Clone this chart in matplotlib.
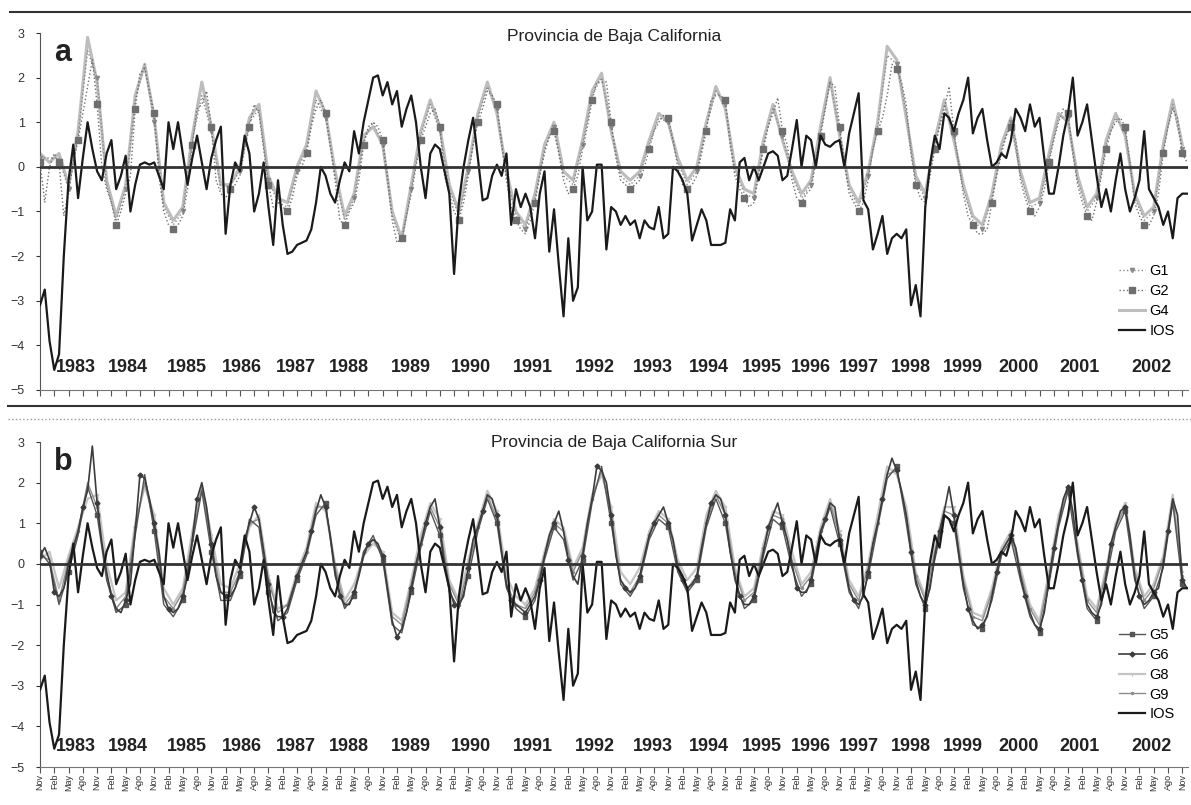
import numpy as np
import matplotlib
matplotlib.use("Agg")
import matplotlib.pyplot as plt
from matplotlib.lines import Line2D

# monthly series, Nov 1982 .. Dec 2002 (one row = Nov..Oct)
ios = [
    -3.1, -2.75, -3.9, -4.55, -4.2, -2.0, -0.3, 0.5, -0.7, 0.2, 1.0, 0.4,
    -0.1, -0.3, 0.3, 0.6, -0.5, -0.2, 0.25, -1.0, -0.4, 0.05, 0.1, 0.05,
    0.1, -0.2, -0.5, 1.0, 0.4, 1.0, 0.3, -0.4, 0.2, 0.7, 0.1, -0.5,
    0.2, 0.6, 0.9, -1.5, -0.4, 0.1, -0.1, 0.7, 0.3, -1.0, -0.6, 0.1,
    -0.9, -1.75, -0.3, -1.3, -1.95, -1.9, -1.75, -1.7, -1.65, -1.4, -0.8, 0.0,
    -0.2, -0.6, -0.8, -0.3, 0.1, -0.1, 0.8, 0.3, 1.0, 1.5, 2.0, 2.05,
    1.6, 1.9, 1.4, 1.7, 0.9, 1.3, 1.6, 1.0, 0.0, -0.7, 0.3, 0.5,
    0.4, -0.1, -0.6, -2.4, -0.8, 0.0, 0.6, 1.1, 0.2, -0.75, -0.7, -0.2,
    0.05, -0.2, 0.3, -1.3, -0.5, -0.9, -0.6, -0.9, -1.6, -0.6, -0.1, -1.9,
    -0.95, -2.2, -3.35, -1.6, -3.0, -2.7, 0.0, -1.2, -1.0, 0.05, 0.05, -1.85,
    -0.9, -1.0, -1.3, -1.1, -1.3, -1.2, -1.6, -1.2, -1.35, -1.4, -0.9, -1.6,
    -1.5, 0.0, -0.1, -0.3, -0.6, -1.65, -1.3, -0.95, -1.2, -1.75, -1.75, -1.75,
    -1.7, -0.95, -1.2, 0.1, 0.2, -0.3, 0.0, -0.3, 0.0, 0.3, 0.35, 0.25,
    -0.3, -0.2, 0.4, 1.05, 0.0, 0.7, 0.6, 0.0, 0.7, 0.5, 0.45, 0.55,
    0.6, 0.0, 0.75, 1.2, 1.65, -0.75, -0.95, -1.85, -1.5, -1.1, -1.95, -1.6,
    -1.5, -1.6, -1.4, -3.1, -2.65, -3.35, -0.9, 0.05, 0.7, 0.4, 1.2, 1.1,
    0.8, 1.2, 1.5, 2.0, 0.75, 1.1, 1.3, 0.6, 0.0, 0.1, 0.3, 0.2,
    0.6, 1.3, 1.1, 0.8, 1.4, 0.9, 1.1, 0.2, -0.6, -0.6, 0.0, 0.7,
    1.2, 2.0, 0.7, 1.0, 1.4, 0.6, -0.2, -0.9, -0.5, -1.0, -0.3, 0.3,
    -0.5, -1.0, -0.7, -0.3, 0.8, -0.5, -0.7, -0.9, -1.3, -1.0, -1.6, -0.7,
    -0.6, -0.6,
]

g2 = [
    0.1, -0.8, 0.0, 0.3, 0.1, -1.1, -0.6, 0.1, 0.6, 1.2, 1.8, 2.4,
    1.4, 0.0, -0.5, -0.8, -1.3, -1.0, -0.6, -0.2, 1.3, 2.1, 2.2, 1.7,
    1.2, -0.2, -1.0, -1.3, -1.4, -1.3, -1.1, -0.5, 0.5, 1.3, 1.4, 1.7,
    0.9, -0.3, -0.6, -0.7, -0.5, -0.4, -0.2, 0.4, 0.9, 1.4, 1.2, 0.4,
    -0.4, -0.9, -0.8, -0.9, -1.0, -0.7, -0.2, 0.0, 0.3, 0.9, 1.3, 1.5,
    1.2, 0.5, -0.3, -1.2, -1.3, -1.0, -0.8, -0.3, 0.5, 0.9, 1.0, 0.9,
    0.6, -0.2, -1.2, -1.7, -1.6, -1.1, -0.6, 0.0, 0.6, 0.9, 1.2, 1.3,
    0.9, -0.2, -0.6, -1.0, -1.2, -0.8, -0.2, 0.5, 1.0, 1.3, 1.7, 1.6,
    1.4, 0.5, -0.3, -0.9, -1.2, -1.4, -1.5, -1.2, -0.8, -0.2, 0.3, 0.7,
    0.8, 0.3, -0.3, -0.6, -0.5, -0.2, 0.4, 0.9, 1.5, 1.9, 1.9, 1.9,
    1.0, 0.2, -0.3, -0.4, -0.5, -0.4, -0.3, 0.0, 0.4, 0.8, 1.0, 1.15,
    1.1, 0.6, 0.0, -0.4, -0.5, -0.4, -0.2, 0.3, 0.8, 1.5, 1.6, 1.6,
    1.5, 0.5, -0.2, -0.5, -0.7, -0.9, -0.8, -0.2, 0.4, 0.9, 1.2, 1.55,
    0.8, 0.5, -0.3, -0.7, -0.8, -0.6, -0.5, 0.1, 0.7, 1.3, 1.9, 1.8,
    0.9, 0.1, -0.6, -0.8, -1.0, -0.8, -0.3, 0.4, 0.8, 1.1, 1.6, 2.3,
    2.2, 1.9, 1.4, 0.3, -0.4, -0.7, -0.8, -0.2, 0.4, 0.9, 1.3, 1.8,
    0.8, 0.1, -0.6, -1.1, -1.3, -1.5, -1.5, -1.4, -0.8, -0.2, 0.3, 0.7,
    0.9, 0.6, -0.3, -0.7, -1.0, -1.1, -0.9, -0.5, 0.1, 0.6, 1.0, 1.3,
    1.2, 0.3, -0.4, -0.8, -1.1, -1.2, -0.8, -0.2, 0.4, 0.8, 1.0, 1.1,
    0.9, 0.1, -0.8, -1.1, -1.3, -1.3, -1.1, -0.6, 0.3, 0.9, 1.3, 1.1,
    0.3, 0.1,
]

g6 = [
    0.2, 0.4, 0.1, -0.7, -0.8, -0.6, 0.0, 0.4, 0.8, 1.4, 1.8, 2.9,
    1.5, 0.5, -0.2, -0.8, -1.1, -1.2, -0.9, -0.5, 0.8, 2.2, 2.1, 1.6,
    1.0, 0.3, -0.8, -1.1, -1.2, -1.1, -0.8, -0.3, 0.6, 1.6, 2.0, 1.4,
    0.5, -0.3, -0.7, -0.8, -0.8, -0.6, -0.2, 0.6, 1.0, 1.4, 1.1, 0.3,
    -0.5, -1.2, -1.3, -1.3, -1.1, -0.7, -0.3, 0.0, 0.3, 0.8, 1.3, 1.7,
    1.4, 0.7, -0.2, -0.8, -1.0, -1.0, -0.7, -0.3, 0.2, 0.5, 0.6, 0.5,
    0.2, -0.6, -1.4, -1.8, -1.6, -1.2, -0.6, 0.0, 0.5, 1.0, 1.4, 1.6,
    0.9, 0.0, -0.6, -1.0, -1.0, -0.8, -0.1, 0.6, 0.9, 1.3, 1.7, 1.6,
    1.2, 0.3, -0.5, -0.9, -1.0, -1.1, -1.2, -1.0, -0.8, -0.4, 0.2, 0.7,
    1.0, 1.3, 0.8, 0.1, -0.3, -0.5, 0.2, 1.0, 1.6, 2.4, 2.3, 2.0,
    1.2, 0.2, -0.4, -0.6, -0.7, -0.6, -0.3, 0.2, 0.7, 1.0, 1.2, 1.4,
    1.0, 0.6, -0.1, -0.4, -0.6, -0.5, -0.3, 0.4, 1.0, 1.5, 1.7, 1.6,
    1.2, 0.3, -0.3, -0.8, -1.0, -1.0, -0.8, -0.3, 0.3, 0.9, 1.2, 1.5,
    1.0, 0.6, 0.0, -0.6, -0.7, -0.7, -0.4, 0.2, 0.8, 1.1, 1.5, 1.4,
    0.6, 0.0, -0.6, -0.9, -1.0, -0.8, -0.2, 0.5, 1.0, 1.6, 2.2, 2.6,
    2.3, 1.8, 1.2, 0.3, -0.4, -0.8, -1.0, -0.6, 0.2, 0.8, 1.3, 1.9,
    1.2, 0.3, -0.5, -1.1, -1.4, -1.6, -1.5, -1.3, -0.8, -0.2, 0.3, 0.5,
    0.7, 0.4, -0.3, -0.8, -1.2, -1.5, -1.6, -1.2, -0.4, 0.4, 1.0, 1.6,
    1.9, 1.3, 0.3, -0.4, -1.0, -1.2, -1.3, -1.0, -0.3, 0.5, 0.9, 1.3,
    1.4, 0.7, -0.3, -0.8, -1.0, -0.9, -0.7, -0.6, 0.0, 0.8, 1.6, 1.2,
    -0.4, -0.6,
]

# bimonthly series (every second month from Nov 1982)
g1 = [
    0.2, 0.2, 0.2, -0.5, 0.7, 2.6, 2.0, -0.4, -1.2, -0.5,
    1.5, 2.3, 1.0, -0.9, -1.3, -1.0, 0.6, 1.6, 0.8, -0.5,
    -0.4, -0.1, 1.0, 1.3, -0.3, -0.8, -0.9, -0.1, 0.4, 1.5,
    1.1, -0.2, -1.2, -0.7, 0.6, 1.0, 0.5, -1.1, -1.7, -0.5,
    0.7, 1.4, 0.8, -0.5, -1.1, -0.1, 1.1, 1.8, 1.3, -0.2,
    -1.1, -1.4, -0.7, 0.4, 0.9, -0.2, -0.4, 0.5, 1.6, 2.0,
    0.9, -0.2, -0.4, -0.2, 0.5, 1.1, 1.0, 0.1, -0.4, -0.1,
    0.9, 1.7, 1.4, -0.1, -0.6, -0.7, 0.5, 1.3, 0.7, -0.2,
    -0.7, -0.4, 0.8, 1.9, 0.8, -0.5, -0.9, -0.2, 0.9, 2.5,
    2.3, 1.2, -0.3, -0.7, 0.5, 1.4, 0.7, -0.5, -1.2, -1.4,
    -0.7, 0.4, 1.0, -0.2, -0.9, -0.8, 0.2, 1.1, 1.1, -0.3,
    -1.0, -0.7, 0.5, 1.1, 0.8, -0.7, -1.2, -1.0, 0.4, 1.4,
    0.4,
]
g4 = [
    0.3, 0.1, 0.3, -0.4, 0.8, 2.9, 1.9, -0.3, -1.1, -0.4,
    1.6, 2.3, 1.1, -0.8, -1.2, -0.9, 0.7, 1.9, 0.9, -0.4,
    -0.4, 0.0, 1.1, 1.4, -0.2, -0.7, -0.8, 0.0, 0.5, 1.7,
    1.2, -0.1, -1.1, -0.6, 0.7, 0.9, 0.5, -1.0, -1.6, -0.4,
    0.8, 1.5, 0.9, -0.4, -1.0, 0.0, 1.2, 1.9, 1.2, -0.1,
    -1.0, -1.3, -0.6, 0.5, 1.0, -0.1, -0.3, 0.6, 1.7, 2.1,
    0.8, -0.1, -0.3, -0.1, 0.6, 1.2, 1.0, 0.2, -0.3, 0.0,
    1.0, 1.8, 1.3, 0.0, -0.5, -0.6, 0.6, 1.4, 0.6, -0.1,
    -0.6, -0.3, 0.9, 2.0, 0.7, -0.4, -0.8, -0.1, 1.0, 2.7,
    2.4, 1.1, -0.2, -0.6, 0.6, 1.5, 0.6, -0.4, -1.1, -1.3,
    -0.6, 0.5, 1.1, -0.1, -0.8, -0.7, 0.3, 1.2, 1.0, -0.2,
    -0.9, -0.6, 0.6, 1.2, 0.7, -0.6, -1.1, -0.9, 0.5, 1.5,
    0.5,
]
g5 = [
    0.3, 0.0, -1.0, -0.2, 0.7, 1.9, 1.2, -0.4, -1.2, -1.0,
    0.7, 2.2, 0.8, -1.0, -1.3, -0.9, 0.5, 1.8, 0.3, -0.9,
    -0.9, -0.3, 1.1, 0.9, -0.7, -1.4, -1.2, -0.4, 0.2, 1.2,
    1.5, -0.3, -1.1, -0.8, 0.3, 0.7, 0.1, -1.5, -1.7, -0.7,
    0.4, 1.3, 0.7, -0.7, -1.1, -0.3, 0.8, 1.6, 1.0, -0.6,
    -1.1, -1.3, -0.9, 0.1, 0.9, 0.6, -0.4, 0.1, 1.5, 2.4,
    1.0, -0.5, -0.8, -0.4, 0.6, 1.1, 0.9, -0.2, -0.7, -0.4,
    0.9, 1.6, 1.0, -0.4, -1.1, -0.9, 0.2, 1.1, 0.9, -0.1,
    -0.8, -0.5, 0.7, 1.4, 0.5, -0.7, -1.1, -0.3, 0.9, 2.1,
    2.4, 1.0, -0.5, -1.1, 0.1, 1.2, 1.0, -0.6, -1.5, -1.6,
    -0.9, 0.2, 0.6, -0.4, -1.3, -1.7, -0.5, 0.9, 1.8, 0.2,
    -1.1, -1.4, -0.4, 0.8, 1.3, -0.4, -1.1, -0.8, -0.1, 1.5,
    -0.5,
]
g8 = [
    0.1, 0.3, -0.6, 0.2, 0.9, 1.6, 1.7, 0.0, -0.9, -0.7,
    1.0, 1.9, 1.2, -0.6, -1.0, -0.6, 0.8, 1.9, 0.7, -0.5,
    -0.6, 0.0, 0.9, 1.2, -0.3, -1.1, -1.0, -0.2, 0.4, 1.5,
    1.3, 0.0, -0.9, -0.5, 0.2, 0.5, 0.3, -1.2, -1.4, -0.4,
    0.7, 1.5, 1.1, -0.4, -0.9, 0.1, 1.0, 1.8, 1.3, -0.3,
    -0.8, -1.0, -0.6, 0.3, 1.1, 0.9, -0.1, 0.4, 1.7, 2.2,
    1.4, -0.2, -0.5, -0.1, 0.8, 1.3, 1.1, 0.1, -0.4, -0.1,
    1.2, 1.8, 1.4, -0.1, -0.8, -0.6, 0.5, 1.3, 1.2, 0.3,
    -0.5, -0.2, 0.9, 1.6, 0.8, -0.4, -0.8, 0.0, 1.2, 2.4,
    2.2, 1.4, -0.2, -0.8, 0.4, 1.4, 1.4, -0.3, -1.2, -1.3,
    -0.6, 0.4, 0.8, -0.1, -1.0, -1.4, -0.2, 1.2, 1.8, 0.5,
    -0.8, -1.1, -0.1, 1.0, 1.5, -0.1, -0.8, -0.5, 0.2, 1.7,
    -0.2,
]
g9 = [
    0.2, 0.1, -0.9, 0.1, 0.8, 2.0, 1.4, -0.3, -1.1, -0.8,
    0.9, 2.0, 1.0, -0.8, -1.1, -0.7, 0.6, 1.9, 0.5, -0.7,
    -0.7, -0.2, 1.0, 1.1, -0.4, -1.2, -1.0, -0.3, 0.3, 1.4,
    1.4, -0.1, -1.0, -0.7, 0.3, 0.6, 0.2, -1.3, -1.5, -0.5,
    0.5, 1.4, 0.9, -0.5, -1.0, -0.1, 0.9, 1.7, 1.1, -0.5,
    -1.0, -1.1, -0.7, 0.2, 1.0, 0.8, -0.2, 0.3, 1.6, 2.3,
    1.2, -0.4, -0.7, -0.3, 0.7, 1.2, 1.0, 0.0, -0.6, -0.3,
    1.0, 1.7, 1.2, -0.2, -0.9, -0.7, 0.4, 1.2, 1.1, 0.1,
    -0.6, -0.3, 0.8, 1.5, 0.7, -0.5, -0.9, -0.1, 1.0, 2.2,
    2.3, 1.2, -0.3, -0.9, 0.3, 1.3, 1.2, -0.4, -1.3, -1.4,
    -0.7, 0.3, 0.7, -0.2, -1.1, -1.5, -0.3, 1.0, 1.9, 0.4,
    -0.9, -1.2, -0.2, 0.9, 1.4, -0.2, -0.9, -0.6, 0.1, 1.6,
    -0.3,
]

month_names = ["Nov", "Feb", "May", "Ago"]
year_labels = [str(y) for y in range(1983, 2003)]
year_pos = [7.5, 18.5, 30.8, 42.4, 53.7, 65, 78, 90.5, 103.6, 116.6,
            128.8, 140.5, 151.7, 162, 172, 183, 194, 205.5, 218.5, 233.6]

t = np.arange(len(ios))
t2 = t[::2]

W, H = 1191, 805
fig = plt.figure(figsize=(W / 100, H / 100), dpi=100)
plt.rcParams['font.family'] = ['Liberation Sans', 'DejaVu Sans']


def setup(ax, letter, title, title_y):
    ax.set_xlim(0, 241.2)
    ax.set_ylim(-5, 3)
    ax.set_yticks(range(-5, 4))
    ax.tick_params(axis='y', direction='out', length=3, labelsize=9, colors='#333333', pad=8)
    ax.spines['top'].set_visible(False)
    ax.spines['right'].set_visible(False)
    ax.spines['left'].set_color('#555555')
    ax.spines['bottom'].set_color('#777777')
    ax.set_xticks(t[::3])
    ax.tick_params(axis='x', direction='out', length=4, color='#555555')
    ax.axhline(0, color='#333333', lw=2, zorder=6)
    ax.text(0.012, 0.985, letter, transform=ax.transAxes, fontsize=22,
            fontweight='bold', va='top', ha='left', color='#222222')
    ax.text(0.5, title_y, title, transform=ax.transAxes, fontsize=12.5,
            ha='center', va='center', color='#222222')
    for lab, p in zip(year_labels, year_pos):
        ax.text(p, -4.5, lab, fontsize=13, fontweight='bold', ha='center',
                va='center', color='#222222', zorder=7)


x0 = 40 / W
wd = 1148 / W
ax_a = fig.add_axes([x0, 1 - 390 / H, wd, (390 - 33) / H])
ax_b = fig.add_axes([x0, 1 - 767 / H, wd, (767 - 442) / H])

# panel a
ax_a.plot(t2, g4, color='#bdbdbd', lw=2.2, label='G4', zorder=2)
ax_a.plot(t2, g1, color='#8a8a8a', lw=1, ls=':', marker='v', ms=3,
          markevery=3, label='G1', zorder=3)
ax_a.plot(t, g2, color='#6e6e6e', lw=1, ls=':', marker='s', ms=4,
          markevery=4, label='G2', zorder=3)
ax_a.plot(t, ios, color='#1a1a1a', lw=1.6, label='IOS', zorder=5)
setup(ax_a, 'a', 'Provincia de Baja California', 0.99)
ax_a.set_xticklabels([])
h, l = ax_a.get_legend_handles_labels()
order = ['G1', 'G2', 'G4', 'IOS']
ax_a.legend([h[l.index(k)] for k in order], order, loc='lower right',
            bbox_to_anchor=(1.0, 0.11), frameon=False, fontsize=10.5,
            handlelength=1.8, labelspacing=0.4, handletextpad=0.3)

# panel b
ax_b.plot(t2, g8, color='#c4c4c4', lw=1.6, marker='1', ms=3, markevery=3,
          label='G8', zorder=2)
ax_b.plot(t2, g9, color='#8c8c8c', lw=1.0, marker='.', ms=3, markevery=2,
          label='G9', zorder=3)
ax_b.plot(t2, g5, color='#555555', lw=1.0, marker='s', ms=3, markevery=3,
          label='G5', zorder=3)
ax_b.plot(t, g6, color='#3c3c3c', lw=1.2, marker='D', ms=2.5, markevery=3,
          label='G6', zorder=4)
ax_b.plot(t, ios, color='#1a1a1a', lw=1.6, label='IOS', zorder=5)
setup(ax_b, 'b', 'Provincia de Baja California Sur', 1.0)
ax_b.set_xticklabels([month_names[k % 4] for k in range(len(t[::3]))],
                     rotation=90, fontsize=6.5, color='#333333')
ax_b.tick_params(axis='x', pad=1)
h, l = ax_b.get_legend_handles_labels()
order = ['G5', 'G6', 'G8', 'G9', 'IOS']
ax_b.legend([h[l.index(k)] for k in order], order, loc='lower right',
            bbox_to_anchor=(1.0, 0.1), frameon=False, fontsize=10.5,
            handlelength=1.8, labelspacing=0.4, handletextpad=0.3)

# frame lines of the scanned figure
fig.add_artist(Line2D([10 / W, 1.0], [1 - 12 / H] * 2, color='#333333', lw=1.5))
fig.add_artist(Line2D([8 / W, 1.0], [1 - 406 / H] * 2, color='#333333', lw=1.5))
fig.add_artist(Line2D([8 / W, 1.0], [1 - 419 / H] * 2, color='#999999', lw=1, ls=':'))

fig.savefig('out.png', dpi=100, facecolor='white')
